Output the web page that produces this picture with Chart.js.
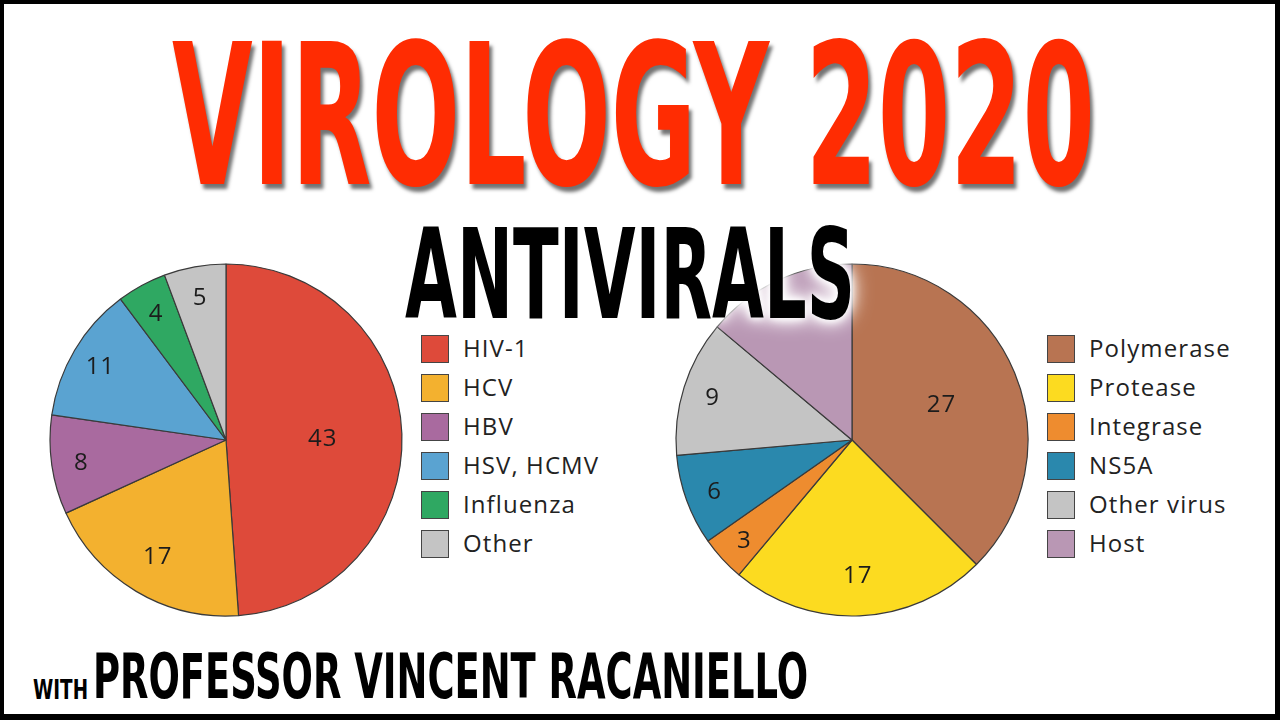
<!DOCTYPE html>
<html>
<head>
<meta charset="utf-8">
<script src="https://cdn.jsdelivr.net/npm/chart.js"></script>
<style>
    html, body { margin: 0; padding: 0; }
    body { width: 1280px; height: 720px; background: #000; position: relative; overflow: hidden; }
    #frame { position: absolute; left: 4px; top: 4px; width: 1271px; height: 710px; background: #fff; }
    .head {
        position: absolute; white-space: nowrap; line-height: 1;
        font-family: "Liberation Sans Narrow", "DejaVu Sans Condensed", sans-serif;
        font-weight: bold; transform-origin: 0 0; z-index: 3;
    }
    #title { color: #ff2c02; font-size: 197px;
             text-shadow: 5px 5px 5px rgba(0,0,0,0.55); }
    #subtitle { color: #000; font-size: 124px;
                text-shadow: 0 0 8px #fff, 0 0 14px #fff, 0 0 22px #fff, 0 0 30px #fff; }
    #with { color: #000; font-size: 27px; }
    #prof { color: #000; font-size: 63px; }
    canvas { position: absolute; z-index: 1; }
    .legend { position: absolute; z-index: 1; font-family: "Open Sans", sans-serif; font-size: 24px;
              letter-spacing: 1.1px; color: #222; }
    .legend .row { height: 39px; display: flex; align-items: flex-start; }
    .legend .box { width: 26px; height: 26px; border: 1.2px solid #444; margin-right: 14px; }
    .legend .txt { line-height: 28px; margin-top: -1px; }
</style>
</head>
<body>
<div id="frame"></div>
<div class="head" id="title">VIROLOGY 2020</div>
<div class="head" id="subtitle">ANTIVIRALS</div>
<div class="head" id="with">WITH</div>
<div class="head" id="prof">PROFESSOR VINCENT RACANIELLO</div>

<canvas id="virusChart" width="360" height="360" style="left:46px; top:260px;"></canvas>
<div class="legend" id="virusLegend" style="left:421px; top:335px;"></div>
<canvas id="targetChart" width="360" height="360" style="left:672px; top:260px;"></canvas>
<div class="legend" id="targetLegend" style="left:1047px; top:335px;"></div>

<script>
// approved antivirals by virus
const virusLabels = ['HIV-1', 'HCV', 'HBV', 'HSV, HCMV', 'Influenza', 'Other'];
const virusCounts = [43, 17, 8, 11, 4, 5];
const virusColors = ['#de4a3a', '#f3b12f', '#a96a9f', '#5aa3d1', '#2fa862', '#c4c4c4'];

// approved antivirals by target
const targetLabels = ['Polymerase', 'Protease', 'Integrase', 'NS5A', 'Other virus', 'Host'];
const targetCounts = [27, 17, 3, 6, 9, 10];
const targetColors = ['#b87452', '#fcdb20', '#ee8c2f', '#2a88ad', '#c4c4c4', '#b997b4'];

// draws the count inside each slice
const sliceLabels = {
    id: 'sliceLabels',
    afterDatasetsDraw(chart) {
        const ctx = chart.ctx;
        const values = chart.data.datasets[0].data;
        const total = values.reduce((a, b) => a + b, 0);
        ctx.save();
        ctx.font = '24px "Open Sans"';
        ctx.letterSpacing = '1px';
        ctx.fillStyle = '#1c1c1c';
        ctx.textAlign = 'center';
        ctx.textBaseline = 'alphabetic';
        chart.getDatasetMeta(0).data.forEach((arc, i) => {
            const share = values[i] / total;
            const f = share > 0.3 ? 0.55 : share > 0.15 ? 0.76 : 0.83;
            const mid = (arc.startAngle + arc.endAngle) / 2;
            const r = arc.outerRadius * f;
            ctx.fillText(values[i], arc.x + Math.cos(mid) * r, arc.y + Math.sin(mid) * r + 9);
        });
        ctx.restore();
    }
};

const makePie = (id, labels, values, colors) => new Chart(document.getElementById(id), {
    type: 'pie',
    data: {
        labels: labels,
        datasets: [{
            data: values,
            backgroundColor: colors,
            borderColor: '#3a3a3a',
            borderWidth: 1.2,
            radius: 176
        }]
    },
    options: {
        responsive: false,
        animation: false,
        layout: { padding: 0 },
        plugins: {
            legend: { display: false },
            tooltip: { enabled: false }
        }
    },
    plugins: [sliceLabels]
});

const makeLegend = (id, labels, colors) => {
    const box = document.getElementById(id);
    labels.forEach((label, i) => {
        const row = document.createElement('div');
        row.className = 'row';
        row.innerHTML = `<div class="box" style="background:${colors[i]}"></div><div class="txt">${label}</div>`;
        box.appendChild(row);
    });
};

makePie('virusChart', virusLabels, virusCounts, virusColors);
makePie('targetChart', targetLabels, targetCounts, targetColors);
makeLegend('virusLegend', virusLabels, virusColors);
makeLegend('targetLegend', targetLabels, targetColors);

// squeeze the heading text into the same boxes as the original
const fitText = (id, left, capTop, width) => {
    const el = document.getElementById(id);
    const size = parseFloat(getComputedStyle(el).fontSize);
    el.style.left = left + 'px';
    el.style.top = (capTop - size * 0.117) + 'px';
    const w = el.getBoundingClientRect().width;
    el.style.transform = `scaleX(${width / w})`;
};

fitText('title', 172, 40, 923);
fitText('subtitle', 405, 228, 450);
fitText('with', 33, 679, 55);
fitText('prof', 93, 652, 715);
</script>
</body>
</html>
